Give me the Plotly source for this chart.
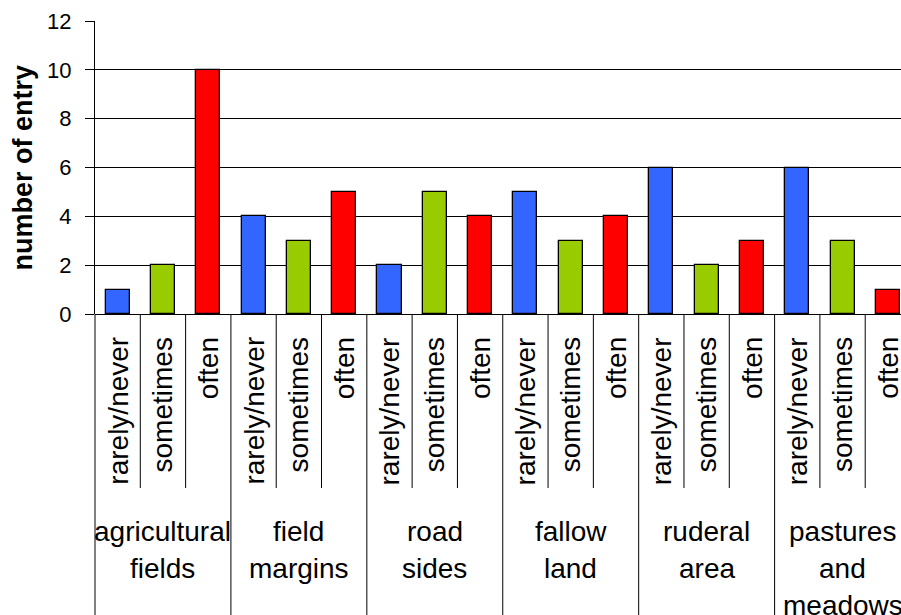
import plotly.graph_objects as go

groups = [["agricultural", "fields"], ["field", "margins"], ["road", "sides"],
          ["fallow", "land"], ["ruderal", "area"], ["pastures", "and", "meadows"]]
frequencies = ["rarely/never", "sometimes", "often"]
values = [
    [1, 2, 10],   # agricultural fields
    [4, 3, 5],    # field margins
    [2, 5, 4],    # road sides
    [5, 3, 4],    # fallow land
    [6, 2, 3],    # ruderal area
    [6, 3, 1],    # pastures and meadows
]
colors = ["#3366FF", "#99CC00", "#FF0000"]
y_ticks = [0, 2, 4, 6, 8, 10, 12]

W, H = 901, 615
ML, MR, MT, MB = 95, 0, 21, 301
plot_h = H - MT - MB
FONT = "Liberation Sans, Arial, sans-serif"

xs, ys, cs = [], [], []
for g, row in enumerate(values):
    for k, v in enumerate(row):
        xs.append(g * 3 + k)
        ys.append(v)
        cs.append(colors[k])

fig = go.Figure(go.Bar(x=xs, y=ys, width=0.53,
                       marker=dict(color=cs, line=dict(color="black", width=1.3)),
                       hoverinfo="skip"))

def py(px):  # pixel below plot bottom -> paper coordinate
    return -(px - (H - MB)) / plot_h

annotations = []
shapes = []
n = len(values) * 3
for i in range(n):
    annotations.append(dict(x=i, y=py(335), xref="x", yref="paper", text=frequencies[i % 3],
                            textangle=-90, xanchor="center", yanchor="top", showarrow=False,
                            font=dict(family=FONT, size=28, color="black")))
for i in range(n - 1):
    if (i + 1) % 3 == 0:
        y1 = py(H + 5)
    else:
        y1 = py(488)
    shapes.append(dict(type="line", xref="x", yref="paper", x0=i + 0.5, x1=i + 0.5,
                       y0=0, y1=y1, line=dict(color="black", width=1)))
shapes.append(dict(type="line", xref="paper", yref="paper", x0=0, x1=0,
                   y0=0, y1=py(H + 5), line=dict(color="black", width=1)))
for g, lines in enumerate(groups):
    for j, t in enumerate(lines):
        annotations.append(dict(x=g * 3 + 1, y=py(514 + 37 * j), xref="x", yref="paper", text=t,
                                xanchor="center", yanchor="top", showarrow=False,
                                font=dict(family=FONT, size=28, color="black")))
annotations.append(dict(x=-(ML - 22) / (W - ML - MR), y=0.5, xref="paper", yref="paper",
                        text="<b>number of entry</b>", textangle=-90, showarrow=False,
                        xanchor="center", yanchor="middle",
                        font=dict(family=FONT, size=27, color="black")))

fig.update_layout(
    width=W, height=H,
    margin=dict(l=ML, r=MR, t=MT, b=MB, pad=0),
    paper_bgcolor="white", plot_bgcolor="white",
    showlegend=False,
    bargap=0,
    xaxis=dict(range=[-0.5, 17.29], showticklabels=False, ticks="", showgrid=False,
               zeroline=False, showline=False, fixedrange=True, automargin=False),
    yaxis=dict(range=[0, 12], tickvals=y_ticks, ticks="outside", ticklen=9, tickcolor="black",
               tickwidth=1, showline=True, linecolor="black", linewidth=1,
               gridcolor="black", gridwidth=1, zeroline=True, zerolinecolor="black",
               zerolinewidth=1, ticklabelstandoff=9, automargin=False,
               tickfont=dict(family=FONT, size=22, color="black"), fixedrange=True),
    annotations=annotations, shapes=shapes,
)
fig.write_html("out.html", config={"displayModeBar": False},
               post_script="document.body.style.margin='0';")
